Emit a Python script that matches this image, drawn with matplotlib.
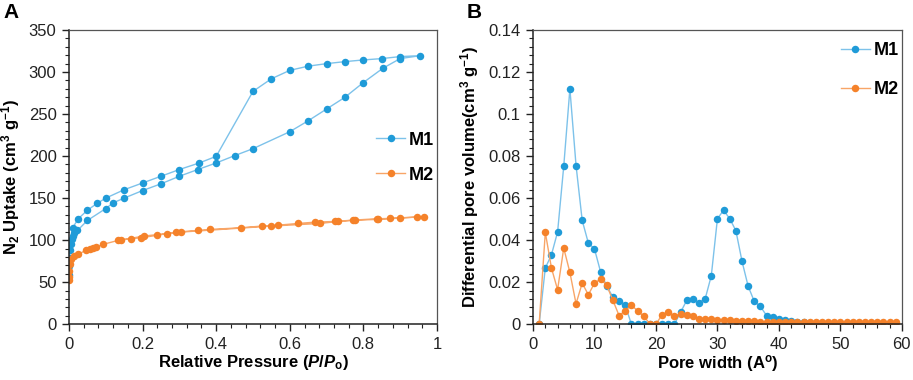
import matplotlib
matplotlib.use("Agg")
import matplotlib.pyplot as plt
from matplotlib.ticker import MultipleLocator
import numpy as np

plt.rcParams["font.family"] = ["Liberation Sans", "DejaVu Sans"]
plt.rcParams["mathtext.fontset"] = "custom"
plt.rcParams["mathtext.rm"] = "Liberation Sans:bold"
plt.rcParams["mathtext.it"] = "Liberation Sans:bold:italic"
plt.rcParams["mathtext.bf"] = "Liberation Sans:bold"

BLUE = "#1f9bd8"
BLUE_LINE = "#7dc2ea"
ORANGE = "#f5822a"
ORANGE_LINE = "#f8a567"

# panel A: N2 isotherms (adsorption then desorption branch)
m1_ads_p = [0.0002, 0.0005, 0.001, 0.003, 0.005, 0.007, 0.01, 0.013, 0.016, 0.023,
            0.05, 0.10, 0.12, 0.15, 0.20, 0.25, 0.30, 0.35, 0.40, 0.45, 0.50,
            0.60, 0.65, 0.70, 0.75, 0.80, 0.853, 0.90, 0.955]
m1_ads_v = [58, 69, 79, 88, 95, 101, 105, 109, 111, 111.5,
            123.4, 137.6, 144.4, 150, 159, 167, 176, 184, 191.8, 200.5, 208.8,
            229, 242, 256, 270, 287.5, 304.5, 316, 319.5]
m1_des_p = [0.90, 0.85, 0.80, 0.75, 0.70, 0.65, 0.60, 0.55, 0.50, 0.40,
            0.354, 0.30, 0.25, 0.20, 0.15, 0.10, 0.076, 0.05, 0.025, 0.01]
m1_des_v = [318.4, 316, 314.4, 312.4, 310, 307, 302, 292, 277, 199.7,
            191.8, 184, 176, 168, 160, 150, 143.6, 135.6, 125.4, 114.7]

m2_ads_p = [0.0002, 0.0005, 0.001, 0.002, 0.005, 0.0136, 0.025, 0.046, 0.057, 0.066,
            0.073, 0.093, 0.134, 0.168, 0.195, 0.238, 0.267, 0.292, 0.351, 0.383,
            0.467, 0.524, 0.569, 0.622, 0.669, 0.723, 0.773, 0.837, 0.873, 0.90,
            0.946, 0.964]
m2_ads_v = [52, 56, 63, 71, 77, 81, 83, 88, 89.8, 91,
            91.6, 95, 99.7, 101.7, 102.8, 105.6, 107.8, 109.5, 111.5, 112.7,
            114.7, 116.7, 117.8, 119.8, 121.4, 122.2, 123.8, 125.4, 125.8, 126.6,
            127.3, 128]
m2_des_p = [0.84, 0.778, 0.732, 0.682, 0.549, 0.303, 0.203, 0.14]
m2_des_v = [124.6, 123.8, 122.2, 119.8, 116.7, 109.5, 104.8, 100]

# panel B: pore size distribution
width_m1 = list(range(1, 48))
pv_m1 = [0, 0.0267, 0.033, 0.0439, 0.0752, 0.112, 0.0755, 0.0494, 0.0386, 0.0358,
         0.0248, 0.018, 0.0129, 0.0108, 0.009, 0, 0, 0, 0, 0,
         0, 0, 0, 0.0056, 0.0113, 0.012, 0.0103, 0.012, 0.023, 0.0502,
         0.0542, 0.0502, 0.0445, 0.0299, 0.018, 0.0108, 0.0084, 0.004, 0.0032, 0.0025,
         0.002, 0.0015, 0.001, 0.0008, 0.0005, 0.0004, 0.0004]
width_m2 = list(range(1, 60))
pv_m2 = [0, 0.0437, 0.0267, 0.0164, 0.0362, 0.0246, 0.0097, 0.0195, 0.014, 0.0195,
         0.0215, 0.0184, 0.0113, 0.0041, 0.0064, 0.009, 0.0064, 0.0037, 0.0003, 0,
         0.0045, 0.0056, 0.004, 0.0048, 0.0045, 0.004, 0.0024, 0.0024, 0.0024, 0.002,
         0.002, 0.0018, 0.0013, 0.0016, 0.0013, 0.0013, 0.0012, 0.0012, 0.0011, 0.001,
         0.001, 0.001, 0.0009, 0.0009, 0.0009, 0.0009, 0.0009, 0.0009, 0.0008, 0.0008,
         0.0008, 0.0008, 0.0008, 0.0008, 0.0008, 0.0008, 0.0008, 0.0008, 0.0008]

fig = plt.figure(figsize=(9.13, 3.8), dpi=100)
axA = fig.add_axes([0.0756, 0.147, 0.403, 0.774])
axB = fig.add_axes([0.5838, 0.147, 0.404, 0.774])


def style_axes(ax):
    for s in ["left", "bottom"]:
        ax.spines[s].set_color("#222222")
        ax.spines[s].set_linewidth(1.1)
    for s in ["top", "right"]:
        ax.spines[s].set_color("#555555")
        ax.spines[s].set_linewidth(0.9)
    ax.tick_params(which="major", direction="out", length=5, width=1, labelsize=12,
                   colors="#222222", top=False, right=False, pad=4)
    ax.tick_params(which="minor", direction="out", length=3, width=0.8,
                   colors="#222222", top=False, right=False)


mk = dict(marker="o", markersize=5.4, markeredgewidth=0, linewidth=1.0)
leg_font = {"weight": "bold", "size": 13}

axA.plot(m1_ads_p + m1_des_p, m1_ads_v + m1_des_v, color=BLUE_LINE,
         markerfacecolor=BLUE, label="M1", **mk)
axA.plot(m2_ads_p + m2_des_p, m2_ads_v + m2_des_v, color=ORANGE_LINE,
         markerfacecolor=ORANGE, label="M2", **mk)
axA.set_xlim(0, 1)
axA.set_ylim(0, 350)
axA.xaxis.set_minor_locator(MultipleLocator(0.04))
axA.yaxis.set_major_locator(MultipleLocator(50))
axA.yaxis.set_minor_locator(MultipleLocator(10))
axA.set_xticks([0, 0.2, 0.4, 0.6, 0.8, 1.0], ["0", "0.2", "0.4", "0.6", "0.8", "1"])
axA.set_xlabel("Relative Pressure ($P/P_{\\rm o}$)", fontsize=12, fontweight="bold", labelpad=1)
axA.set_ylabel("N$_2$ Uptake (cm$^3$ g$^{-1}$)", fontsize=12, fontweight="bold", labelpad=5)
style_axes(axA)
axA.legend(loc="center left", bbox_to_anchor=(0.81, 0.566), frameon=False,
           prop=leg_font, handlelength=1.6, handletextpad=0.2,
           labelspacing=1.0, borderpad=0)

axB.plot(width_m1, pv_m1, color=BLUE_LINE, markerfacecolor=BLUE, label="M1", **mk)
axB.plot(width_m2, pv_m2, color=ORANGE_LINE, markerfacecolor=ORANGE, label="M2", **mk)
axB.set_xlim(0, 60)
axB.set_ylim(0, 0.14)
axB.xaxis.set_major_locator(MultipleLocator(10))
axB.xaxis.set_minor_locator(MultipleLocator(2))
axB.yaxis.set_minor_locator(MultipleLocator(0.004))
axB.set_yticks([0, 0.02, 0.04, 0.06, 0.08, 0.1, 0.12, 0.14],
               ["0", "0.02", "0.04", "0.06", "0.08", "0.1", "0.12", "0.14"])
axB.set_xlabel("Pore width (A$^{\\rm o}$)", fontsize=12, fontweight="bold", labelpad=1)
axB.set_ylabel("Differential pore volume(cm$^3$ g$^{-1}$)", fontsize=12, fontweight="bold",
               labelpad=5)
style_axes(axB)
axB.legend(loc="center left", bbox_to_anchor=(0.81, 0.864), frameon=False,
           prop=leg_font, handlelength=1.6, handletextpad=0.2,
           labelspacing=1.2, borderpad=0)

fig.text(0.004, 0.952, "A", fontsize=15, fontweight="bold")
fig.text(0.511, 0.952, "B", fontsize=15, fontweight="bold")

fig.savefig("out.png", dpi=100)
